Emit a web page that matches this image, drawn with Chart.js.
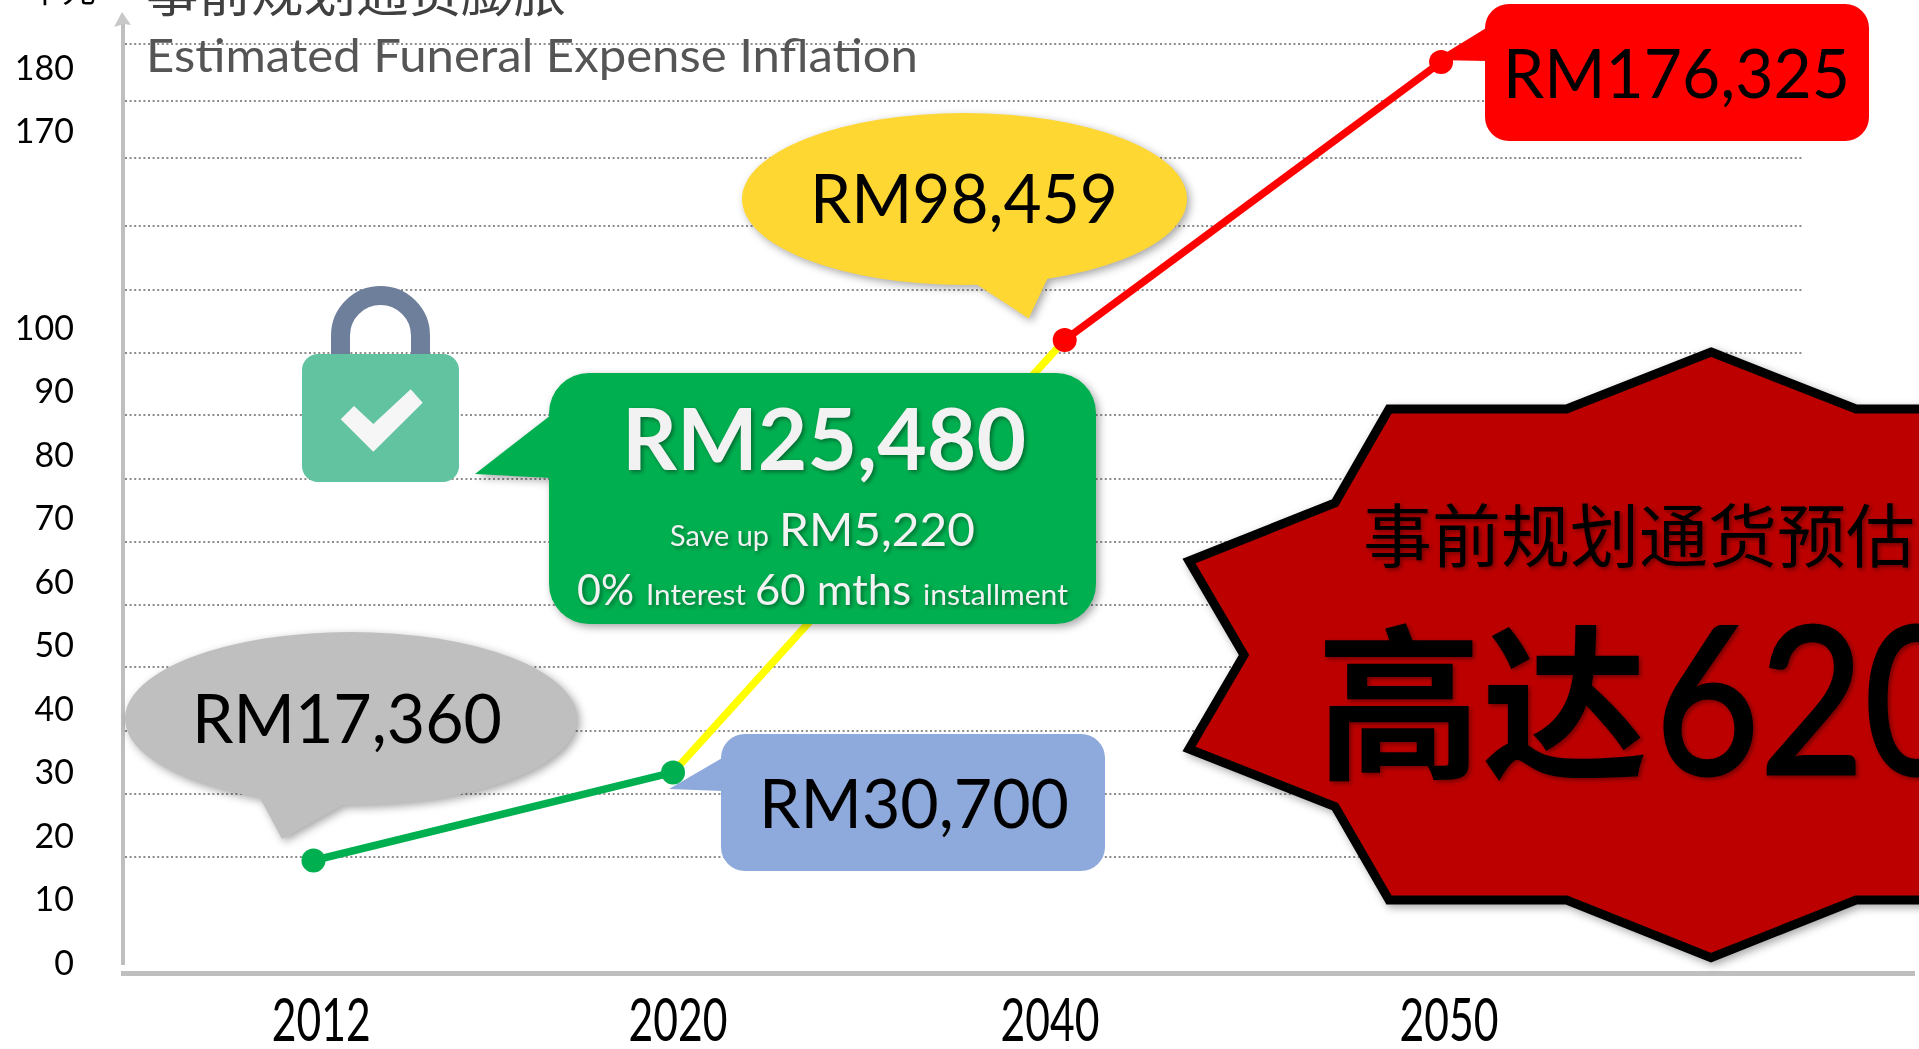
<!DOCTYPE html>
<html>
<head>
<meta charset="utf-8">
<title>Estimated Funeral Expense Inflation</title>
<script src="https://cdn.jsdelivr.net/npm/chart.js@4"></script>
<style>
    html, body { margin: 0; background: #fff; overflow: hidden; }
    #box { position: relative; width: 1919px; height: 1049px; overflow: hidden; }
    #grafico { position: absolute; left: 0; top: 0; }
    #extras { position: absolute; left: 0; top: 0; pointer-events: none; }
    text { font-family: Lato, sans-serif; }
    .cjk { font-family: "Noto Sans CJK SC", sans-serif; }
    .sombra { filter: drop-shadow(3px 3px 4px rgba(0,0,0,.35)); }
    .sombraTexto { filter: drop-shadow(2px 2px 2px rgba(0,0,0,.4)); }
</style>
</head>
<body>
<div id="box">
    <canvas id="grafico" width="1919" height="1049"></canvas>

    <!-- callouts and titles that sit on top of the chart -->
    <svg id="extras" width="1919" height="1049">
        <polygon points="122,12 131,25 124,24 114,27" fill="#c8c8c8"/>
        <rect x="119" y="965" width="9" height="6" fill="#fff"/>
        <line x1="1804" y1="973.6" x2="1915" y2="973.6" stroke="#bfbfbf" stroke-width="5"/>

        <text class="cjk" x="28" y="2" font-size="34" fill="#000">千元</text>
        <text class="cjk" x="146" y="12" font-size="52" fill="#404040" textLength="420" lengthAdjust="spacingAndGlyphs">事前规划通货膨胀</text>
        <text x="146" y="72" font-size="47" fill="#555" textLength="772" lengthAdjust="spacingAndGlyphs">Estimated Funeral Expense Inflation</text>

        <!-- lock -->
        <path d="M340.5 356 V335.5 A40 40 0 0 1 420.5 335.5 V356" fill="none" stroke="#6e7f9c" stroke-width="19"/>
        <rect x="302" y="354" width="157" height="128" rx="16" fill="#62c3a0"/>
        <polygon points="340.7,419.3 354,406 373.3,424 410.7,389.3 422.7,402.7 373.3,451.7" fill="#f6f6f6"/>

        <!-- grey bubble -->
        <g class="sombra">
            <path d="M260 798 L282 839 L343 805 Z" fill="#bfbfbf"/>
            <ellipse cx="351" cy="718.5" rx="226" ry="86.5" fill="#bfbfbf"/>
        </g>
        <text x="192" y="743" font-size="67" textLength="310" lengthAdjust="spacingAndGlyphs">RM17,360</text>

        <!-- yellow bubble -->
        <g class="sombra">
            <path d="M973 282 L1028.6 318.4 L1050.6 272 Z" fill="#ffd732"/>
            <ellipse cx="964.5" cy="199" rx="222.5" ry="86" fill="#ffd732"/>
        </g>
        <text x="810" y="223.4" font-size="67" textLength="308" lengthAdjust="spacingAndGlyphs">RM98,459</text>

        <!-- green callout -->
        <g class="sombra">
            <path d="M551 415 L475 474 L551 478 Z" fill="#00b050"/>
            <rect x="549" y="373" width="547" height="251" rx="40" fill="#00b050"/>
        </g>
        <g class="sombraTexto" fill="#f2f2f2">
            <text x="622" y="470" font-size="86" font-weight="700" textLength="404" lengthAdjust="spacingAndGlyphs">RM25,480</text>
            <text x="670" y="546" font-size="29" textLength="99" lengthAdjust="spacingAndGlyphs">Save up</text>
            <text x="779" y="546" font-size="47" textLength="196" lengthAdjust="spacingAndGlyphs">RM5,220</text>
            <text x="577" y="605" font-size="43" textLength="57" lengthAdjust="spacingAndGlyphs">0%</text>
            <text x="646" y="605" font-size="29" textLength="100" lengthAdjust="spacingAndGlyphs">Interest</text>
            <text x="755" y="605" font-size="43" textLength="156" lengthAdjust="spacingAndGlyphs">60 mths</text>
            <text x="923" y="605" font-size="29" textLength="145" lengthAdjust="spacingAndGlyphs">installment</text>
        </g>

        <!-- blue callout -->
        <path d="M723 757.5 L669 789 L723 791 Z" fill="#8ea9db"/>
        <rect x="721" y="734" width="384" height="137" rx="24" fill="#8ea9db"/>
        <text x="759" y="827.7" font-size="67" textLength="310" lengthAdjust="spacingAndGlyphs">RM30,700</text>

        <!-- red callout -->
        <path d="M1487 27.4 L1434 60 L1487 61 Z" fill="#ff0000"/>
        <rect x="1485" y="4" width="384" height="137" rx="24" fill="#ff0000"/>
        <text x="1503" y="97.7" font-size="67" textLength="347" lengthAdjust="spacingAndGlyphs">RM176,325</text>

        <!-- star -->
        <polygon class="sombra" fill="#bc0000" stroke="#000" stroke-width="9"
            points="1711,352 1856,409 2000,409 2000,900 1856,900 1711,957.6 1566.6,900 1389,900 1335,806.5 1189,749 1244,655 1189,561 1335,503 1389,409 1566.6,409"/>
        <g class="sombraTexto">
            <text class="cjk" x="1363" y="562" font-size="69">事前规划通货预估</text>
            <text class="cjk" x="1316" y="766" font-size="166" font-weight="700">高达</text>
            <text transform="translate(1655 774) scale(0.88 1)" font-size="205" stroke="#000" stroke-width="3">620</text>
        </g>
    </svg>
</div>

<script>
// values in thousands of RM
var years = [2012, 2020, 2040, 2050]
var values = [17.36, 30.7, 98.459, 176.325]
var segmentColors = ['#00b050', '#ffff00', '#ff0000']
var pointColors = ['#00b050', '#00b050', '#ff0000', '#ff0000']

// y labels (the picture jumps from 100 to 170)
var yLabels = [0, 10, 20, 30, 40, 50, 60, 70, 80, 90, 100, 170, 180]
// where the dotted lines fall, read against the data axis
var gridLevels = [17.83, 27.47, 37.26, 47.18, 56.88, 66.86, 76.73, 86.71, 96.4, 112.6, 130.5, 149.3, 165.3, 181.5]

// the axis of the picture is not linear, so each scale gets [value, fraction of axis]
class BrokenScale extends Chart.LinearScale {
    getDecimal(value) {
        var a = this.options.anchors
        var i = 0
        while (i < a.length - 2 && value > a[i + 1][0]) i++
        return a[i][1] + (value - a[i][0]) / (a[i + 1][0] - a[i][0]) * (a[i + 1][1] - a[i][1])
    }
    getPixelForValue(value) {
        if (value === null || isNaN(value)) return NaN
        return this.getPixelForDecimal(this.getDecimal(value))
    }
    // labelWidth squeezes the labels, there is no narrow font installed
    drawLabels(area) {
        var w = this.options.labelWidth
        if (!w) return super.drawLabels(area)
        var ctx = this.ctx
        var original = ctx.fillText
        ctx.fillText = function (t, x, y) { original.call(ctx, t, x, y, w) }
        super.drawLabels(area)
        delete ctx.fillText
    }
}
BrokenScale.id = 'broken'
BrokenScale.defaults = Chart.LinearScale.defaults
Chart.register(BrokenScale)

function setTicks(list) {
    return function (scale) {
        scale.ticks = list.map(function (v) { return { value: v } })
    }
}
function plainLabel(value) {
    return String(value)
}
// fixed axis size, and no extra room for the first and last label
function fitAxis(width, height) {
    return function (s) {
        if (width !== null) s.width = width
        if (height !== null) s.height = height
        s.paddingTop = s.paddingBottom = s.paddingLeft = s.paddingRight = 0
    }
}

new Chart(document.getElementById('grafico'), {
    type: 'line',
    data: {
        datasets: [{
            data: years.map(function (y, i) { return { x: y, y: values[i] } }),
            borderWidth: 7.5,
            borderColor: segmentColors[0],
            segment: {
                borderColor: function (ctx) { return segmentColors[ctx.p0DataIndex] }
            },
            pointRadius: 12,
            pointBorderWidth: 0,
            pointBackgroundColor: pointColors,
            tension: 0
        }]
    },
    options: {
        responsive: false,
        animation: false,
        events: [],
        layout: { autoPadding: false, padding: { left: 0, right: 115, top: 24, bottom: 0 } },
        plugins: { legend: { display: false }, tooltip: { enabled: false } },
        scales: {
            // data axes
            x: {
                type: 'broken', min: 2000, max: 2060,
                anchors: [[2000, 0], [2012, 0.1133], [2020, 0.3272], [2040, 0.5602], [2050, 0.7841], [2060, 1]],
                afterBuildTicks: setTicks(years),
                afterFit: fitAxis(null, 0),
                grid: { display: false },
                ticks: { display: false },
                border: { color: '#bfbfbf', width: 5 }
            },
            y: {
                type: 'broken', min: 0, max: 190,
                anchors: [[0, 0], [17.36, 0.1191], [30.7, 0.2118], [98.459, 0.6672], [176.325, 0.96], [190, 1.0114]],
                afterBuildTicks: setTicks(gridLevels),
                afterFit: fitAxis(0, null),
                grid: { color: '#8c8c8c', lineWidth: 2, drawTicks: false },
                ticks: { display: false },
                border: { color: '#bfbfbf', width: 4, dash: [2, 2.6] }
            },
            // label axes, the labels in the picture do not line up with the marks
            xLabels: {
                type: 'broken', position: 'bottom', axis: 'x', min: 2000, max: 2060,
                anchors: [[2000, 0], [2012, 0.118], [2020, 0.3302], [2040, 0.5515], [2050, 0.7888], [2060, 1]],
                labelWidth: 99,
                afterBuildTicks: setTicks(years),
                afterFit: fitAxis(null, 75.4),
                grid: { display: false, drawTicks: false },
                border: { display: false },
                ticks: {
                    autoSkip: false, maxRotation: 0, padding: 12, color: '#000',
                    font: { family: 'Lato, sans-serif', size: 60 },
                    callback: plainLabel
                }
            },
            yLabels: {
                type: 'broken', position: 'left', axis: 'y', min: 0, max: 190,
                anchors: [[0, 0.0104], [100, 0.6789], [170, 0.8858], [180, 0.9527]],
                afterBuildTicks: setTicks(yLabels),
                afterFit: fitAxis(123, null),
                grid: { display: false, drawTicks: false },
                border: { display: false },
                ticks: {
                    autoSkip: false, padding: 49, color: '#000',
                    font: { family: 'Lato, sans-serif', size: 34 },
                    callback: plainLabel
                }
            }
        }
    }
})
</script>
</body>
</html>
